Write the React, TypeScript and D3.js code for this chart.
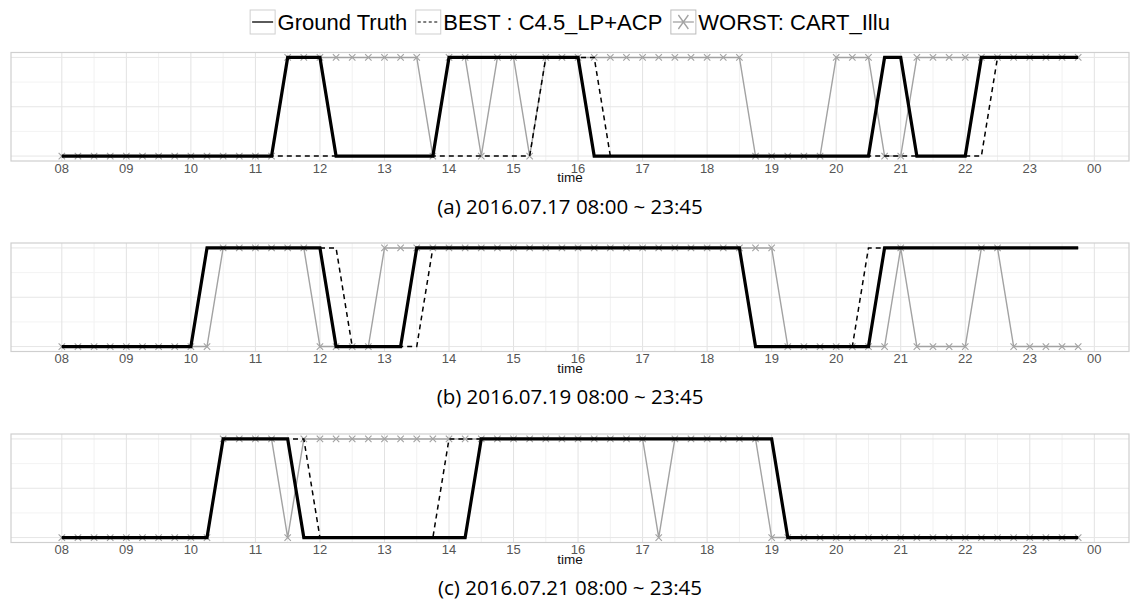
import * as d3 from 'd3';
import React, { useEffect, useRef } from 'react';

// 15-minute samples, 08:00 .. 23:45 (one row per hour below)
const times = d3.range(64).map((i) => 8 + i * 0.25);
const hourTicks = d3.range(8, 25);
const hourLabels = ['08', '09', '10', '11', '12', '13', '14', '15', '16', '17', '18', '19', '20', '21', '22', '23', '00'];

const captions = ['(a) 2016.07.17 08:00 ~ 23:45', '(b) 2016.07.19 08:00 ~ 23:45', '(c) 2016.07.21 08:00 ~ 23:45'];
const legendLabels = ['Ground Truth', 'BEST : C4.5_LP+ACP', 'WORST: CART_Illu'];

// (a) 2016.07.17
const gtA = [
  0, 0, 0, 0, 0, 0, 0, 0, 0, 0, 0, 0, 0, 0, 1, 1,
  1, 0, 0, 0, 0, 0, 0, 0, 1, 1, 1, 1, 1, 1, 1, 1,
  1, 0, 0, 0, 0, 0, 0, 0, 0, 0, 0, 0, 0, 0, 0, 0,
  0, 0, 0, 1, 1, 0, 0, 0, 0, 1, 1, 1, 1, 1, 1, 1,
];
const bestA = [
  0, 0, 0, 0, 0, 0, 0, 0, 0, 0, 0, 0, 0, 0, 0, 0,
  0, 0, 0, 0, 0, 0, 0, 0, 0, 0, 0, 0, 0, 0, 1, 1,
  1, 1, 0, 0, 0, 0, 0, 0, 0, 0, 0, 0, 0, 0, 0, 0,
  0, 0, 0, 0, 0, 0, 0, 0, 0, 0, 1, 1, 1, 1, 1, 1,
];
const worstA = [
  0, 0, 0, 0, 0, 0, 0, 0, 0, 0, 0, 0, 0, 0, 1, 1,
  1, 1, 1, 1, 1, 1, 1, 0, 1, 1, 0, 1, 1, 0, 1, 1,
  1, 1, 1, 1, 1, 1, 1, 1, 1, 1, 1, 0, 0, 0, 0, 0,
  1, 1, 1, 0, 0, 1, 1, 1, 1, 1, 1, 1, 1, 1, 1, 1,
];

// (b) 2016.07.19
const gtB = [
  0, 0, 0, 0, 0, 0, 0, 0, 0, 1, 1, 1, 1, 1, 1, 1,
  1, 0, 0, 0, 0, 0, 1, 1, 1, 1, 1, 1, 1, 1, 1, 1,
  1, 1, 1, 1, 1, 1, 1, 1, 1, 1, 1, 0, 0, 0, 0, 0,
  0, 0, 0, 1, 1, 1, 1, 1, 1, 1, 1, 1, 1, 1, 1, 1,
];
const bestB = [
  0, 0, 0, 0, 0, 0, 0, 0, 0, 1, 1, 1, 1, 1, 1, 1,
  1, 1, 0, 0, 0, 0, 0, 1, 1, 1, 1, 1, 1, 1, 1, 1,
  1, 1, 1, 1, 1, 1, 1, 1, 1, 1, 1, 0, 0, 0, 0, 0,
  0, 0, 1, 1, 1, 1, 1, 1, 1, 1, 1, 1, 1, 1, 1, 1,
];
const worstB = [
  0, 0, 0, 0, 0, 0, 0, 0, 0, 0, 1, 1, 1, 1, 1, 1,
  0, 0, 0, 0, 1, 1, 1, 1, 1, 1, 1, 1, 1, 1, 1, 1,
  1, 1, 1, 1, 1, 1, 1, 1, 1, 1, 1, 1, 1, 0, 0, 0,
  0, 0, 0, 0, 1, 0, 0, 0, 0, 1, 1, 0, 0, 0, 0, 0,
];

// (c) 2016.07.21
const gtC = [
  0, 0, 0, 0, 0, 0, 0, 0, 0, 0, 1, 1, 1, 1, 1, 0,
  0, 0, 0, 0, 0, 0, 0, 0, 0, 0, 1, 1, 1, 1, 1, 1,
  1, 1, 1, 1, 1, 1, 1, 1, 1, 1, 1, 1, 1, 0, 0, 0,
  0, 0, 0, 0, 0, 0, 0, 0, 0, 0, 0, 0, 0, 0, 0, 0,
];
const bestC = [
  0, 0, 0, 0, 0, 0, 0, 0, 0, 0, 1, 1, 1, 1, 1, 1,
  0, 0, 0, 0, 0, 0, 0, 0, 1, 1, 1, 1, 1, 1, 1, 1,
  1, 1, 1, 1, 1, 1, 1, 1, 1, 1, 1, 1, 1, 0, 0, 0,
  0, 0, 0, 0, 0, 0, 0, 0, 0, 0, 0, 0, 0, 0, 0, 0,
];
const worstC = [
  0, 0, 0, 0, 0, 0, 0, 0, 0, 0, 1, 1, 1, 1, 0, 1,
  1, 1, 1, 1, 1, 1, 1, 1, 1, 1, 1, 1, 1, 1, 1, 1,
  1, 1, 1, 1, 1, 0, 1, 1, 1, 1, 1, 1, 0, 0, 0, 0,
  0, 0, 0, 0, 0, 0, 0, 0, 0, 0, 0, 0, 0, 0, 0, 0,
];

const panels = [
  { caption: captions[0], gt: gtA, best: bestA, worst: worstA },
  { caption: captions[1], gt: gtB, best: bestB, worst: worstB },
  { caption: captions[2], gt: gtC, best: bestC, worst: worstC },
];

const width = 1131;
const height = 603;
const panelTops = [52.5, 243, 434];
const panelH = 108.5;
const grey = '#a2a2a2';
const cross = 'M-3.2,-3.2L3.2,3.2M-3.2,3.2L3.2,-3.2';

function App() {
  const ref = useRef(null);

  useEffect(() => {
    const svg = d3.select(ref.current);
    svg.selectAll('*').remove();

    // ggplot-style 5% expansion around 08:00..23:45
    const pad = (23.75 - 8) * 0.05;
    const x = d3.scaleLinear().domain([8 - pad, 23.75 + pad]).range([11, 1129]);
    const cx = (x.range()[0] + x.range()[1]) / 2;

    panels.forEach((p, k) => {
      const top = panelTops[k];
      const bottom = top + panelH;
      const y = d3.scaleLinear().domain([-0.05, 1.05]).range([bottom, top]);
      const g = svg.append('g');

      g.selectAll('.vminor')
        .data(d3.range(8.5, 24, 1))
        .enter()
        .append('line')
        .attr('x1', (d) => x(d)).attr('x2', (d) => x(d))
        .attr('y1', top).attr('y2', bottom)
        .attr('stroke', '#f1f1f1');
      g.selectAll('.hminor')
        .data([0.25, 0.75])
        .enter()
        .append('line')
        .attr('x1', x.range()[0]).attr('x2', x.range()[1])
        .attr('y1', (d) => y(d)).attr('y2', (d) => y(d))
        .attr('stroke', '#f3f3f3');
      g.selectAll('.vmajor')
        .data(hourTicks)
        .enter()
        .append('line')
        .attr('x1', (d) => x(d)).attr('x2', (d) => x(d))
        .attr('y1', top).attr('y2', bottom)
        .attr('stroke', '#e2e2e2');
      g.selectAll('.hmajor')
        .data([0, 0.5, 1])
        .enter()
        .append('line')
        .attr('x1', x.range()[0]).attr('x2', x.range()[1])
        .attr('y1', (d) => y(d)).attr('y2', (d) => y(d))
        .attr('stroke', '#e6e6e6');

      g.append('rect')
        .attr('x', x.range()[0]).attr('y', top)
        .attr('width', x.range()[1] - x.range()[0]).attr('height', panelH)
        .attr('fill', 'none').attr('stroke', '#cfcfcf').attr('stroke-width', 1.2);

      const line = d3.line().x((d) => x(d[0])).y((d) => y(d[1]));
      const pts = (vals) => times.map((t, i) => [t, vals[i]]);

      g.append('path')
        .attr('d', line(pts(p.worst)))
        .attr('fill', 'none').attr('stroke', grey).attr('stroke-width', 1.4);
      g.selectAll('.mk')
        .data(pts(p.worst))
        .enter()
        .append('path')
        .attr('d', cross)
        .attr('transform', (d) => `translate(${x(d[0])},${y(d[1])})`)
        .attr('fill', 'none').attr('stroke', grey).attr('stroke-width', 1.1);
      g.append('path')
        .attr('d', line(pts(p.best)))
        .attr('fill', 'none').attr('stroke', '#000').attr('stroke-width', 1.5)
        .attr('stroke-dasharray', '5,4');
      g.append('path')
        .attr('d', line(pts(p.gt)))
        .attr('fill', 'none').attr('stroke', '#000').attr('stroke-width', 3.2);

      g.selectAll('.tick')
        .data(hourTicks)
        .enter()
        .append('text')
        .attr('x', (d) => x(d))
        .attr('y', bottom + 11.5)
        .attr('text-anchor', 'middle')
        .attr('font-family', 'Liberation Sans, Arial, sans-serif')
        .attr('font-size', 13)
        .attr('fill', '#555')
        .text((d, i) => hourLabels[i]);

      g.append('text')
        .attr('x', cx).attr('y', bottom + 21)
        .attr('text-anchor', 'middle')
        .attr('font-family', 'Liberation Sans, Arial, sans-serif')
        .attr('font-size', 13.5)
        .attr('fill', '#111')
        .text('time');

      g.append('text')
        .attr('x', cx).attr('y', bottom + 52.5)
        .attr('text-anchor', 'middle')
        .attr('font-family', 'Open Sans, sans-serif')
        .attr('font-size', 20.5)
        .attr('fill', '#000')
        .text(p.caption);
    });

    // legend, centred over the panels
    const lg = svg.append('g');
    const boxW = 25;
    const items = legendLabels.map((label) => {
      const t = lg.append('text')
        .attr('font-family', 'Liberation Sans, Arial, sans-serif')
        .attr('font-size', 22)
        .attr('y', 30)
        .text(label);
      return { t, w: t.node().getComputedTextLength() };
    });
    const total = d3.sum(items, (d) => d.w) + items.length * (boxW + 2.5) + (items.length - 1) * 8.5;
    let cursor = cx - total / 2;
    items.forEach((it, i) => {
      const bx = cursor;
      lg.append('rect')
        .attr('x', bx).attr('y', 10).attr('width', boxW).attr('height', 24)
        .attr('fill', '#fff').attr('stroke', i === 2 ? '#bbb' : '#cfcfcf');
      const ky = 22;
      if (i === 0) {
        lg.append('line').attr('x1', bx + 2).attr('x2', bx + boxW - 2).attr('y1', ky).attr('y2', ky)
          .attr('stroke', '#000').attr('stroke-width', 1.3);
      } else if (i === 1) {
        lg.append('line').attr('x1', bx + 2).attr('x2', bx + boxW - 2).attr('y1', ky).attr('y2', ky)
          .attr('stroke', '#000').attr('stroke-width', 1.2).attr('stroke-dasharray', '3,2.5');
      } else {
        lg.append('line').attr('x1', bx + 2).attr('x2', bx + boxW - 2).attr('y1', ky).attr('y2', ky)
          .attr('stroke', grey).attr('stroke-width', 1.3);
        lg.append('path').attr('d', 'M-5,-7L5,7M-5,7L5,-7')
          .attr('transform', `translate(${bx + boxW / 2},${ky})`)
          .attr('fill', 'none').attr('stroke', grey).attr('stroke-width', 1.3);
      }
      it.t.attr('x', bx + boxW + 2.5);
      cursor = bx + boxW + 2.5 + it.w + 8.5;
    });
  }, []);

  return (
    <div style={{ position: 'absolute', left: 0, top: 0 }}>
      <svg ref={ref} width={width} height={height} style={{ display: 'block', background: '#fff' }}></svg>
    </div>
  );
}

export default App;
